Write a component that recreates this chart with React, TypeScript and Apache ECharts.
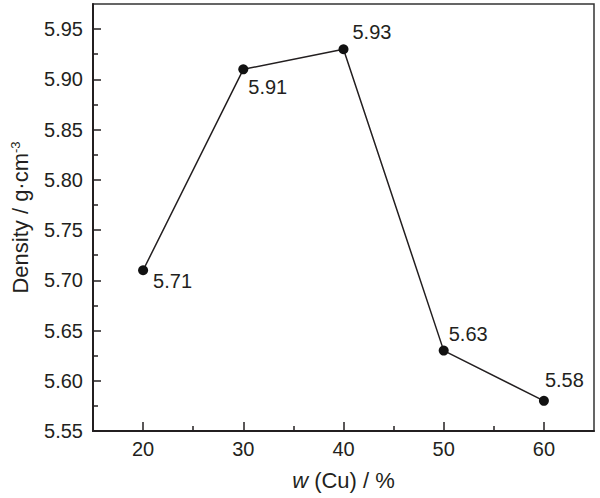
import React, { useEffect, useRef } from "react";
import * as echarts from "echarts";

const cuContent = [20, 30, 40, 50, 60];
const density = [5.71, 5.91, 5.93, 5.63, 5.58];
const xMajorTicks = [20, 30, 40, 50, 60];
const xMinorTicks = [25, 35, 45, 55];
const yMajorTicks = [5.55, 5.6, 5.65, 5.7, 5.75, 5.8, 5.85, 5.9, 5.95];
const yMinorTicks = [5.575, 5.625, 5.675, 5.725, 5.775, 5.825, 5.875, 5.925];

// label offsets (style only): [dx, dy] from point centre to label left/middle
const labelOffsets: [number, number][] = [
  [10, 11],
  [5, 18],
  [9, -17],
  [5, -17],
  [1, -21],
];

const FONT = "'Liberation Sans', Arial, Helvetica, sans-serif";
const INK = "#231f20";

export default function App() {
  const ref = useRef<HTMLDivElement>(null);
  useEffect(() => {
    if (!ref.current) return;
    const chart = echarts.init(ref.current, null, { renderer: "svg" });
    const baseAxis = {
      type: "value" as const,
      splitLine: { show: false },
    };
    chart.setOption({
      animation: false,
      backgroundColor: "#ffffff",
      grid: {
        left: 93,
        right: 6,
        top: 4,
        bottom: 67,
        show: true,
        borderColor: "#333",
        borderWidth: 1.5,
        backgroundColor: "transparent",
      },
      xAxis: [
        {
          ...baseAxis,
          min: 15,
          max: 65,
          name: "{i|w} (Cu) / %",
          nameLocation: "middle",
          nameGap: 38,
          nameTextStyle: {
            fontFamily: FONT,
            fontSize: 22,
            color: INK,
            rich: {
              i: { fontFamily: FONT, fontSize: 22, fontStyle: "italic", color: INK },
            },
          },
          axisLine: { show: true, lineStyle: { color: INK, width: 2 } },
          axisTick: {
            show: true,
            inside: true,
            length: 9,
            customValues: xMajorTicks,
            lineStyle: { color: INK, width: 1.5 },
          },
          axisLabel: {
            customValues: xMajorTicks,
            margin: 8,
            fontFamily: FONT,
            fontSize: 20,
            color: INK,
          },
        },
        {
          ...baseAxis,
          min: 15,
          max: 65,
          position: "bottom",
          axisLine: { show: false },
          axisLabel: { show: false },
          axisTick: {
            show: true,
            inside: true,
            length: 5,
            customValues: xMinorTicks,
            lineStyle: { color: INK, width: 1.5 },
          },
        },
      ],
      yAxis: [
        {
          ...baseAxis,
          min: 5.55,
          max: 5.975,
          name: "Density / g·cm{sup|-3}",
          nameLocation: "middle",
          nameGap: 62,
          nameTextStyle: {
            fontFamily: FONT,
            fontSize: 22,
            color: INK,
            rich: {
              sup: {
                fontFamily: FONT,
                fontSize: 13,
                color: INK,
                verticalAlign: "top",
                lineHeight: 22,
                padding: [0, 0, 10, 0],
              },
            },
          },
          axisLine: { show: true, lineStyle: { color: INK, width: 2 } },
          axisTick: {
            show: true,
            inside: true,
            length: 8,
            customValues: yMajorTicks,
            lineStyle: { color: INK, width: 1.5 },
          },
          axisLabel: {
            customValues: yMajorTicks,
            margin: 10,
            fontFamily: FONT,
            fontSize: 20,
            color: INK,
            formatter: (v: number) => v.toFixed(2),
          },
        },
        {
          ...baseAxis,
          min: 5.55,
          max: 5.975,
          position: "left",
          axisLine: { show: false },
          axisLabel: { show: false },
          axisTick: {
            show: true,
            inside: true,
            length: 5,
            customValues: yMinorTicks,
            lineStyle: { color: INK, width: 1.5 },
          },
        },
      ],
      series: [
        {
          type: "line",
          xAxisIndex: 0,
          yAxisIndex: 0,
          data: cuContent.map((x, i) => ({
            value: [x, density[i]],
            label: {
              show: true,
              position: "inside",
              align: "left",
              verticalAlign: "middle",
              offset: labelOffsets[i],
            },
          })),
          symbol: "circle",
          symbolSize: 10,
          itemStyle: { color: "#111" },
          lineStyle: { color: INK, width: 1.5 },
          label: {
            show: true,
            fontFamily: FONT,
            fontSize: 20,
            color: INK,
            formatter: (p: any) => p.value[1].toFixed(2),
          },
          emphasis: { disabled: true },
        },
      ],
    });
    return () => chart.dispose();
  }, []);
  return (
    <div
      ref={ref}
      style={{ position: "absolute", left: 0, top: 0, width: 600, height: 498 }}
    />
  );
}
